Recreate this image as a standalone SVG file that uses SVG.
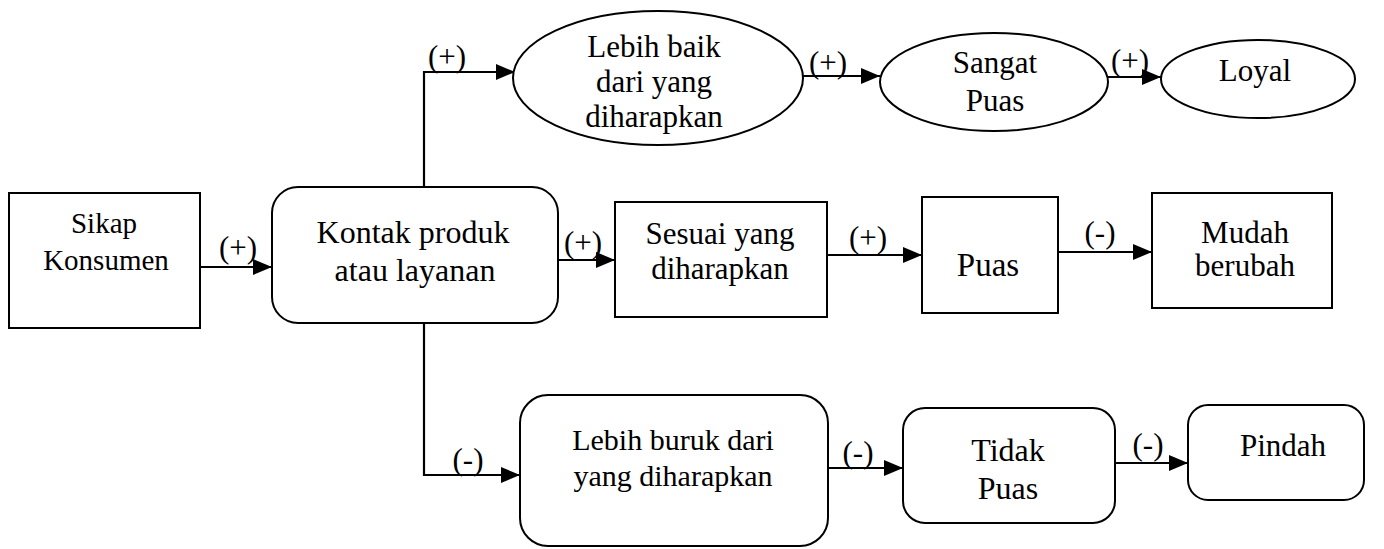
<svg xmlns="http://www.w3.org/2000/svg" width="1384" height="549" viewBox="0 0 1384 549">
<style>
.n{fill:#fff;stroke:#000;stroke-width:2}
.t{font-family:'Liberation Serif','Times New Roman',serif;font-size:31px;fill:#000;text-anchor:middle}
.c{fill:none;stroke:#000;stroke-width:2.2;marker-end:url(#ah)}
</style>
<defs>
<marker id="ah" markerUnits="userSpaceOnUse" markerWidth="22" markerHeight="18" refX="19" refY="8" orient="auto">
<path d="M0,0 L19,8 L0,16 z" fill="#000"/>
</marker>
</defs>
<rect width="1384" height="549" fill="#fff"/>
<g id="connectors" font-family="Liberation Serif, serif">
<path class="c" d="M200,267 H272"/>
<path class="c" d="M424,187 V72 H515"/>
<path class="c" d="M803,76 H880"/>
<path class="c" d="M1107,77 H1161"/>
<path class="c" d="M558,260 H615"/>
<path class="c" d="M827,255 H922"/>
<path class="c" d="M1058,252 H1152"/>
<path class="c" d="M424,323 V475 H520"/>
<path class="c" d="M828,468 H903"/>
<path class="c" d="M1115,463 H1188"/>
<text class="t" x="238" y="258">(+)</text>
<text class="t" x="447" y="67">(+)</text>
<text class="t" x="828" y="73">(+)</text>
<text class="t" x="1130" y="71">(+)</text>
<text class="t" x="583" y="253">(+)</text>
<text class="t" x="868" y="248">(+)</text>
<text class="t" x="1100" y="243">(-)</text>
<text class="t" x="468" y="470">(-)</text>
<text class="t" x="858" y="463">(-)</text>
<text class="t" x="1148" y="455">(-)</text>
</g>
<g id="sikap" font-family="Liberation Serif, serif">
<rect class="n" x="9" y="193" width="191" height="135"/>
<text class="t" x="104" y="233" style="font-size:29px">Sikap</text>
<text class="t" x="106" y="270" style="font-size:29px">Konsumen</text>
</g>
<g id="kontak" font-family="Liberation Serif, serif">
<rect class="n" x="272" y="187" width="286" height="136" rx="26"/>
<text class="t" x="413" y="243" style="font-size:32px">Kontak produk</text>
<text class="t" x="415" y="281" style="font-size:32px">atau layanan</text>
</g>
<g id="lebih-baik" font-family="Liberation Serif, serif">
<ellipse class="n" cx="658" cy="78" rx="145" ry="67"/>
<text class="t" x="654" y="57">Lebih baik</text>
<text class="t" x="654" y="92">dari yang</text>
<text class="t" x="654" y="127">diharapkan</text>
</g>
<g id="sangat-puas" font-family="Liberation Serif, serif">
<ellipse class="n" cx="994" cy="82" rx="114" ry="49"/>
<text class="t" x="995" y="73">Sangat</text>
<text class="t" x="995" y="111">Puas</text>
</g>
<g id="loyal" font-family="Liberation Serif, serif">
<ellipse class="n" cx="1258" cy="79" rx="97" ry="39"/>
<text class="t" x="1255" y="81">Loyal</text>
</g>
<g id="sesuai" font-family="Liberation Serif, serif">
<rect class="n" x="615" y="202" width="212" height="115"/>
<text class="t" x="720" y="244">Sesuai yang</text>
<text class="t" x="720" y="279">diharapkan</text>
</g>
<g id="puas" font-family="Liberation Serif, serif">
<rect class="n" x="922" y="197" width="136" height="116"/>
<text class="t" x="988" y="276" style="font-size:33px">Puas</text>
</g>
<g id="mudah" font-family="Liberation Serif, serif">
<rect class="n" x="1152" y="193" width="180" height="115"/>
<text class="t" x="1245" y="243">Mudah</text>
<text class="t" x="1245" y="276">berubah</text>
</g>
<g id="lebih-buruk" font-family="Liberation Serif, serif">
<rect class="n" x="520" y="395" width="308" height="151" rx="28"/>
<text class="t" x="673" y="450" style="font-size:30px">Lebih buruk dari</text>
<text class="t" x="673" y="486" style="font-size:30px">yang diharapkan</text>
</g>
<g id="tidak-puas" font-family="Liberation Serif, serif">
<rect class="n" x="903" y="408" width="212" height="115" rx="22"/>
<text class="t" x="1008" y="461" style="font-size:32px">Tidak</text>
<text class="t" x="1008" y="499" style="font-size:32px">Puas</text>
</g>
<g id="pindah" font-family="Liberation Serif, serif">
<rect class="n" x="1188" y="405" width="176" height="95" rx="20"/>
<text class="t" x="1283" y="456">Pindah</text>
</g>
</svg>
